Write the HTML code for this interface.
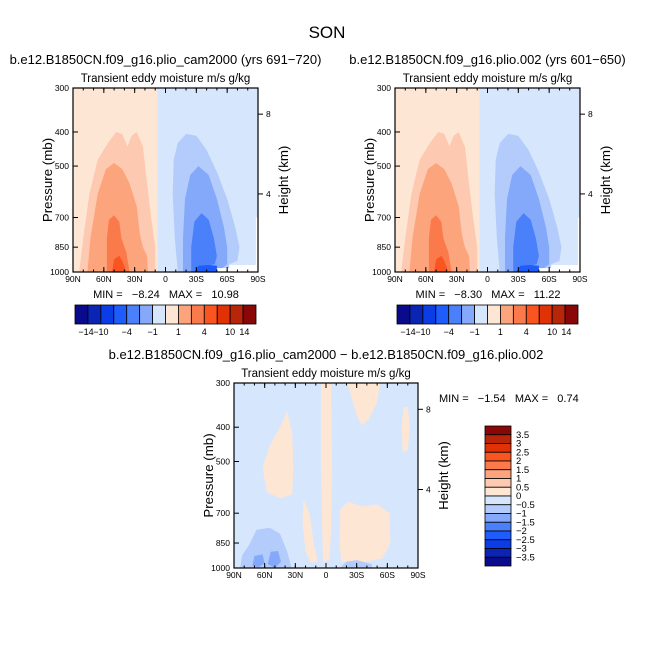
<!DOCTYPE html>
<html><head><meta charset="utf-8">
<style>
html,body{margin:0;padding:0;background:#fff;}
svg{display:block;font-family:"Liberation Sans",sans-serif;}
text{white-space:pre;}
</style></head>
<body>
<svg id="chart" width="654" height="654" viewBox="0 0 654 654" xmlns="http://www.w3.org/2000/svg">
<rect width="654" height="654" fill="#fff"/>
<text x="327" y="38" font-size="17" text-anchor="middle" fill="#000">SON</text>
</svg>
<script>
// ---- data ----
const latTicks = [90, 60, 30, 0, -30, -60, -90];
const latLabels = ["90N", "60N", "30N", "0", "30S", "60S", "90S"];
const presTicks = [300, 400, 500, 700, 850, 1000];
const heightTicks = [8, 4];
const heightPres = [356, 600];
const topLevels = ["-14", "-10", "-4", "-1", "1", "4", "10", "14"];
const topLevelIdx = [0.85, 2, 4, 6, 8, 10, 12, 13.1];
const topBarColors = ["#0a0a8c","#0a24b4","#0a3de6","#1e5cfb","#4b80fb","#84a9fb","#b3ccfb","#d5e6fd","#fee6d5","#fdc9b0","#fca47c","#fb7a4b","#fa5420","#e03205","#b82509","#8a0707"].filter((c,i)=>i!==6&&i!==9);
const fillColors = ["#0a0a8c","#0a24b4","#0a3de6","#1e5cfb","#4b80fb","#84a9fb","#b3ccfb","#d5e6fd","#fee6d5","#fdc9b0","#fca47c","#fb7a4b","#fa5420","#e03205","#b82509","#8a0707"];
const diffLevels = ["3.5","3","2.5","2","1.5","1","0.5","0","-0.5","-1","-1.5","-2","-2.5","-3","-3.5"];
const diffColors = fillColors.slice().reverse();

// contour regions as [lat, pressure] vertex lists
const bgLeft = [[90,300],[8,300],[8,1000],[90,1000]];
const bgRight = [[8,300],[-90,300],[-90,1000],[8,1000]];
const orange1 = [[84,1000],[80,800],[74,600],[66,480],[56,430],[48,400],[42,405],[37,440],[33,410],[28,400],[22,440],[18,560],[14,700],[10,850],[10,1000]];
const orange2 = [[76,1000],[73,800],[66,600],[58,510],[50,490],[42,510],[35,560],[28,650],[25,780],[22,850],[18,900],[17,1000]];
const orange3 = [[57,1000],[57,800],[55,710],[50,690],[45,720],[43,800],[38,880],[35,1000]];
const orange4 = [[52,1000],[50,920],[45,900],[42,930],[38,1000]];
const blue1 = [[-12,1000],[-9,800],[-7,600],[-8,480],[-12,430],[-20,405],[-30,410],[-40,450],[-50,520],[-60,620],[-68,750],[-72,850],[-70,930],[-62,950],[-62,1000]];
const blue2 = [[-17,1000],[-17,800],[-19,620],[-24,530],[-32,500],[-42,530],[-50,620],[-57,750],[-60,850],[-60,950],[-50,1000]];
const blue3 = [[-25,1000],[-25,850],[-28,720],[-35,680],[-42,710],[-47,800],[-50,900],[-48,950],[-40,960],[-32,1000]];
const blue4 = [[-28,1000],[-32,960],[-42,955],[-50,960],[-50,1000]];
const whitePatch = [[-50,1000],[-50,975],[-62,975],[-62,955],[-88,955],[-88,700],[-90,700],[-90,1000]];

const diffOrange = [
  [[5,300],[-5,300],[-6,500],[-5,800],[-3,950],[3,960],[4,700],[5,500]],
  [[-21,300],[-53,300],[-50,340],[-42,380],[-35,395],[-30,370],[-25,330]],
  [[38,360],[33,420],[32,520],[33,620],[45,635],[58,610],[62,520],[55,450],[45,400]],
  [[22,640],[16,700],[12,850],[8,960],[15,965],[20,900],[23,750]],
  [[-14,680],[-13,850],[-15,960],[-35,965],[-55,940],[-63,850],[-62,700],[-50,660],[-35,670],[-22,650]],
  [[-76,350],[-74,400],[-75,470],[-80,465],[-82,400],[-80,350]]
];
const diffBlue = [
  [[84,1000],[82,920],[75,860],[68,780],[55,770],[45,800],[38,900],[34,990],[34,1000]],
  [[-15,990],[-20,960],[-30,950],[-45,975],[-45,1000],[-15,1000]]
];
const diffBlueDark = [
  [[72,985],[70,925],[62,915],[60,970],[66,995]],
  [[57,975],[54,900],[47,895],[44,960],[50,1000]]
];

// ---- helpers ----
const svg = document.getElementById('chart');
const NS = 'http://www.w3.org/2000/svg';
function mk(tag, attrs, parent){const e=document.createElementNS(NS,tag);for(const k in attrs)e.setAttribute(k,attrs[k]);(parent||svg).appendChild(e);return e;}
function txt(s, attrs, parent){const e=mk('text',attrs,parent);e.textContent=s;return e;}

function panel(x0,y0,w,h,title,sub,layers,name){
  const g=mk('g',{});
  
  
  const xs=lat=>x0+(90-lat)/180*w;
  const ys=p=>y0+(Math.log(p)-Math.log(300))/(Math.log(1000)-Math.log(300))*h;
  const cp='clip-'+name;
  const c=mk('clipPath',{id:cp},g);mk('rect',{x:x0,y:y0,width:w,height:h},c);
  const fg=mk('g',{'clip-path':'url(#'+cp+')'},g);
  layers.forEach(([pts,col,nm])=>{
    const p=mk('polygon',{points:pts.map(([la,pr])=>xs(la).toFixed(1)+','+ys(pr).toFixed(1)).join(' '),fill:col,stroke:'none'},fg);
    
    
  });
  mk('rect',{x:x0,y:y0,width:w,height:h,fill:'none',stroke:'#000','stroke-width':1.2},g);
  latTicks.forEach((la,i)=>{
    const x=xs(la);
    mk('line',{x1:x,x2:x,y1:y0+h,y2:y0+h-5,stroke:'#000'},g);
    mk('line',{x1:x,x2:x,y1:y0,y2:y0+5,stroke:'#000'},g);
    const t=txt(latLabels[i],{x:x,y:y0+h+10,'font-size':8.5,'text-anchor':'middle'},g);
    
    
  });
  for(let la=90;la>=-90;la-=10){const x=xs(la);mk('line',{x1:x,x2:x,y1:y0+h,y2:y0+h-2.5,stroke:'#000'},g);mk('line',{x1:x,x2:x,y1:y0,y2:y0+2.5,stroke:'#000'},g);}
  presTicks.forEach(p=>{
    const y=ys(p);
    mk('line',{x1:x0,x2:x0+5,y1:y,y2:y,stroke:'#000'},g);
    const t=txt(String(p),{x:x0-4,y:y+3,'font-size':8.5,'text-anchor':'end'},g);
    
    
  });
  heightTicks.forEach((hk,i)=>{
    const y=ys(heightPres[i]);
    mk('line',{x1:x0+w,x2:x0+w+5,y1:y,y2:y,stroke:'#000'},g);
    const t=txt(String(hk),{x:x0+w+8,y:y+3,'font-size':8.5},g);
    
    
  });
  const yl=txt('Pressure (mb)',{transform:`translate(${x0-21},${y0+h/2}) rotate(-90)`,'font-size':13.3,'text-anchor':'middle'},g);
  
  
  const yr=txt('Height (km)',{transform:`translate(${x0+w+30},${y0+h/2}) rotate(-90)`,'font-size':13.3,'text-anchor':'middle'},g);
  
  
  const st=txt(sub,{x:x0+w/2,y:y0-6,'font-size':11.5,'text-anchor':'middle'},g);
  
  
  if(title){const tt=txt(title,{x:x0+w/2,y:y0-24,'font-size':13,'text-anchor':'middle'},g);
    
    }
}

function baseLayers(){
  return [[bgLeft,fillColors[8],'region-pos'],[bgRight,fillColors[7],'region-neg'],
  [orange1,fillColors[9],'contour-orange-1'],[orange2,fillColors[10],'contour-orange-2'],[orange3,fillColors[11],'contour-orange-3'],[orange4,fillColors[12],'contour-orange-4'],
  [blue1,fillColors[6],'contour-blue-1'],[blue2,fillColors[5],'contour-blue-2'],[blue3,fillColors[4],'contour-blue-3'],[blue4,fillColors[3],'contour-blue-4'],
  [whitePatch,'#ffffff','missing-region']];
}
const sub='Transient eddy moisture m/s g/kg';
panel(73,88,185,184,'b.e12.B1850CN.f09_g16.plio_cam2000 (yrs 691\u2212720)',sub,baseLayers(),'panel-cam2000');
panel(395,88,185,184,'b.e12.B1850CN.f09_g16.plio.002 (yrs 601\u2212650)',sub,baseLayers(),'panel-plio002');

const dl=[[[[90,300],[-90,300],[-90,1000],[90,1000]],diffColors[8],'diff-background']];
diffOrange.forEach(p=>dl.push([p,diffColors[7],'diff-positive']));
diffBlue.forEach(p=>dl.push([p,diffColors[9],'diff-negative']));
diffBlueDark.forEach(p=>dl.push([p,diffColors[10],'diff-negative-strong']));
panel(234,383,184,185,'',sub,dl,'panel-difference');
const dt=txt('b.e12.B1850CN.f09_g16.plio_cam2000 \u2212 b.e12.B1850CN.f09_g16.plio.002',{x:326,y:359,'font-size':13,'text-anchor':'middle'});



function minmax(s,x,y,anchor){const t=txt(s,{x:x,y:y,'font-size':11,'text-anchor':anchor});
  
  }
minmax('MIN =   \u22128.24   MAX =   10.98',166,298,'middle');
minmax('MIN =   \u22128.30   MAX =   11.22',488,298,'middle');
minmax('MIN =   \u22121.54   MAX =   0.74',439,402,'start');

function hbar(x0,y0,w,h,name){
  const g=mk('g',{});
  
  
  const n=topBarColors.length, bw=w/n;
  topBarColors.forEach((c,i)=>{
    const r=mk('rect',{x:x0+i*bw,y:y0,width:bw,height:h,fill:c,stroke:'#000','stroke-width':0.8},g);
    
    
  });
  topLevels.forEach((l,i)=>{
    const t=txt(l.replace('-','\u2212'),{x:x0+topLevelIdx[i]*bw,y:y0+h+11,'font-size':9,'text-anchor':'middle'},g);
    
    
  });
}
hbar(75,305,181,19,'colorbar-left');
hbar(397,305,181,19,'colorbar-right');

(function(){
  const x0=485,y0=426,w=26,h=140;
  const g=mk('g',{});
  
  
  const bh=h/diffColors.length;
  diffColors.forEach((c,i)=>{
    const r=mk('rect',{x:x0,y:y0+i*bh,width:w,height:bh,fill:c,stroke:'#000','stroke-width':0.8},g);
    
    
  });
  diffLevels.forEach((l,i)=>{
    const t=txt(l.replace('-','\u2212'),{x:x0+w+5,y:y0+(i+1)*bh+3,'font-size':9.5},g);
    
    
  });
})();
</script>
</body></html>
